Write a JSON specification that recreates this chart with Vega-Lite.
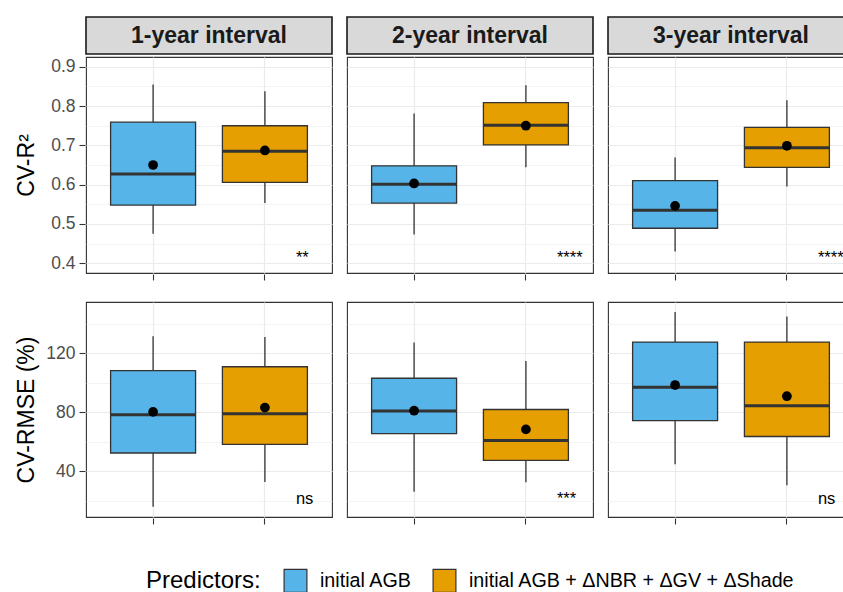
{
  "$schema": "https://vega.github.io/schema/vega-lite/v6.json",
  "padding": {"left": 15, "top": 16, "right": 0, "bottom": 5},
  "datasets": {
    "strips": [
      {"interval": "1-year interval"},
      {"interval": "2-year interval"},
      {"interval": "3-year interval"}
    ],
    "boxes": [
      {"metric": "R2", "interval": "1-year interval", "predictor": "initial AGB", "low": 0.475, "q1": 0.548, "median": 0.627, "q3": 0.759, "high": 0.855, "mean": 0.650, "sig": null, "label_y": null},
      {"metric": "R2", "interval": "1-year interval", "predictor": "initial AGB + ΔNBR + ΔGV + ΔShade", "low": 0.553, "q1": 0.606, "median": 0.685, "q3": 0.750, "high": 0.838, "mean": 0.687, "sig": "**", "label_y": 0.40},
      {"metric": "R2", "interval": "2-year interval", "predictor": "initial AGB", "low": 0.473, "q1": 0.553, "median": 0.601, "q3": 0.648, "high": 0.781, "mean": 0.603, "sig": null, "label_y": null},
      {"metric": "R2", "interval": "2-year interval", "predictor": "initial AGB + ΔNBR + ΔGV + ΔShade", "low": 0.644, "q1": 0.701, "median": 0.751, "q3": 0.809, "high": 0.853, "mean": 0.750, "sig": "****", "label_y": 0.40},
      {"metric": "R2", "interval": "3-year interval", "predictor": "initial AGB", "low": 0.430, "q1": 0.489, "median": 0.535, "q3": 0.610, "high": 0.669, "mean": 0.546, "sig": null, "label_y": null},
      {"metric": "R2", "interval": "3-year interval", "predictor": "initial AGB + ΔNBR + ΔGV + ΔShade", "low": 0.595, "q1": 0.644, "median": 0.694, "q3": 0.746, "high": 0.815, "mean": 0.699, "sig": "****", "label_y": 0.40},
      {"metric": "RMSE", "interval": "1-year interval", "predictor": "initial AGB", "low": 15.8, "q1": 52.3, "median": 78.2, "q3": 108.1, "high": 131.4, "mean": 80.2, "sig": null, "label_y": null},
      {"metric": "RMSE", "interval": "1-year interval", "predictor": "initial AGB + ΔNBR + ΔGV + ΔShade", "low": 32.7, "q1": 58.1, "median": 79.0, "q3": 110.8, "high": 131.0, "mean": 83.1, "sig": "ns", "label_y": 17.8},
      {"metric": "RMSE", "interval": "2-year interval", "predictor": "initial AGB", "low": 26.0, "q1": 65.5, "median": 80.7, "q3": 103.0, "high": 127.3, "mean": 81.0, "sig": null, "label_y": null},
      {"metric": "RMSE", "interval": "2-year interval", "predictor": "initial AGB + ΔNBR + ΔGV + ΔShade", "low": 32.4, "q1": 47.3, "median": 60.8, "q3": 81.8, "high": 114.7, "mean": 68.3, "sig": "***", "label_y": 17.8},
      {"metric": "RMSE", "interval": "3-year interval", "predictor": "initial AGB", "low": 44.6, "q1": 74.3, "median": 96.9, "q3": 127.5, "high": 148.0, "mean": 98.4, "sig": null, "label_y": null},
      {"metric": "RMSE", "interval": "3-year interval", "predictor": "initial AGB + ΔNBR + ΔGV + ΔShade", "low": 30.4, "q1": 63.5, "median": 84.3, "q3": 127.5, "high": 144.9, "mean": 90.8, "sig": "ns", "label_y": 17.8}
    ]
  },
  "config": {
    "font": "Liberation Sans",
    "view": {"stroke": "#333333", "strokeWidth": 1.1},
    "axis": {
      "domain": false,
      "gridColor": "#EBEBEB",
      "gridWidth": 1.2,
      "tickColor": "#333333",
      "tickWidth": 1.1,
      "tickSize": 6,
      "labelColor": "#4D4D4D",
      "labelFontSize": 17.5,
      "labelPadding": 4,
      "labelOverlap": false,
      "titleColor": "#000000",
      "titleFontSize": 23,
      "titleFontWeight": "normal",
      "titlePadding": 8
    },
    "legend": {
      "titleFontSize": 24,
      "titleFontWeight": "normal",
      "titleColor": "#000000",
      "labelFontSize": 19.7,
      "labelColor": "#000000",
      "labelLimit": 600
    }
  },
  "vconcat": [
    {
      "vconcat": [
        {
          "data": {"name": "strips"},
          "facet": {"column": {"field": "interval", "type": "nominal", "header": null}},
          "spacing": 13,
          "spec": {
            "width": 246,
            "height": 37,
            "view": {"fill": "#D9D9D9", "stroke": "#1A1A1A", "strokeWidth": 1.6},
            "mark": {"type": "text", "fontSize": 23, "fontWeight": "bold", "color": "#1A1A1A"},
            "encoding": {"text": {"field": "interval", "type": "nominal"}}
          }
        },
        {
          "data": {"name": "boxes"},
          "transform": [{"filter": "datum.metric === 'R2'"}],
          "facet": {"column": {"field": "interval", "type": "nominal", "header": null}},
          "spacing": 13,
          "spec": {
            "width": 246,
            "height": 216,
            "encoding": {
              "x": {
                "field": "predictor", "type": "nominal",
                "sort": ["initial AGB", "initial AGB + ΔNBR + ΔGV + ΔShade"],
                "scale": {"paddingInner": 0.24, "paddingOuter": 0.22},
                "axis": {"labels": false, "title": null, "grid": true}
              }
            },
            "layer": [
              {
                "mark": {"type": "rule", "color": "#333333", "strokeWidth": 1.3},
                "encoding": {
                  "y": {
                    "field": "low", "type": "quantitative",
                    "scale": {"domain": [0.375, 0.925], "nice": false, "zero": false},
                    "axis": {
                      "title": "CV-R²",
                      "titlePadding": 12,
                      "labelOverlap": false,
                      "tickCount": 30,
                      "values": [0.4, 0.45, 0.5, 0.55, 0.6, 0.65, 0.7, 0.75, 0.8, 0.85, 0.9],
                      "labelExpr": "round(datum.value*100) % 10 == 0 ? format(datum.value, '.1f') : ''",
                      "tickOpacity": {"condition": {"test": "round(datum.value*100) % 10 != 0", "value": 0}, "value": 1},
                      "gridWidth": {"condition": {"test": "round(datum.value*100) % 10 != 0", "value": 0.6}, "value": 1.2}
                    }
                  },
                  "y2": {"field": "high"}
                }
              },
              {
                "mark": {"type": "bar", "stroke": "#333333", "strokeWidth": 1.3},
                "encoding": {
                  "y": {"field": "q1", "type": "quantitative"},
                  "y2": {"field": "q3"},
                  "color": {
                    "field": "predictor", "type": "nominal",
                    "scale": {"domain": ["initial AGB", "initial AGB + ΔNBR + ΔGV + ΔShade"], "range": ["#56B4E9", "#E69F00"]},
                    "legend": {
                      "title": "Predictors:",
                      "orient": "none",
                      "legendX": 60,
                      "legendY": 551,
                      "direction": "horizontal",
                      "titleOrient": "left",
                      "titlePadding": 22,
                      "symbolType": "square",
                      "symbolSize": 520,
                      "symbolStrokeColor": "#333333",
                      "symbolStrokeWidth": 1.2,
                      "symbolOpacity": 1,
                      "labelOffset": 12,
                      "columnPadding": 18
                    }
                  }
                }
              },
              {
                "mark": {"type": "tick", "color": "#333333", "thickness": 3, "size": 85, "opacity": 1},
                "encoding": {"y": {"field": "median", "type": "quantitative"}}
              },
              {
                "mark": {"type": "point", "filled": true, "color": "#000000", "size": 95, "opacity": 1},
                "encoding": {"y": {"field": "mean", "type": "quantitative"}}
              },
              {
                "mark": {"type": "text", "align": "left", "baseline": "alphabetic", "dx": 31, "fontSize": 16.5, "color": "#000000"},
                "encoding": {
                  "y": {"field": "label_y", "type": "quantitative"},
                  "text": {"field": "sig", "type": "nominal"}
                }
              }
            ]
          }
        }
      ],
      "spacing": 1
    },
    {
      "data": {"name": "boxes"},
      "transform": [{"filter": "datum.metric === 'RMSE'"}],
      "facet": {"column": {"field": "interval", "type": "nominal", "header": null}},
      "spacing": 13,
      "spec": {
        "width": 246,
        "height": 215,
        "encoding": {
          "x": {
            "field": "predictor", "type": "nominal",
            "sort": ["initial AGB", "initial AGB + ΔNBR + ΔGV + ΔShade"],
            "scale": {"paddingInner": 0.24, "paddingOuter": 0.22},
            "axis": {"labels": false, "title": null, "grid": true}
          }
        },
        "layer": [
          {
            "mark": {"type": "rule", "color": "#333333", "strokeWidth": 1.3},
            "encoding": {
              "y": {
                "field": "low", "type": "quantitative",
                "scale": {"domain": [8.9, 154.7], "nice": false, "zero": false},
                "axis": {
                  "title": "CV-RMSE (%)",
                  "titlePadding": 7,
                  "labelOverlap": false,
                  "tickCount": 30,
                  "values": [20, 40, 60, 80, 100, 120, 140],
                  "labelExpr": "datum.value % 40 == 0 ? datum.label : ''",
                  "tickOpacity": {"condition": {"test": "datum.value % 40 != 0", "value": 0}, "value": 1},
                  "gridWidth": {"condition": {"test": "datum.value % 40 != 0", "value": 0.6}, "value": 1.2}
                }
              },
              "y2": {"field": "high"}
            }
          },
          {
            "mark": {"type": "bar", "stroke": "#333333", "strokeWidth": 1.3},
            "encoding": {
              "y": {"field": "q1", "type": "quantitative"},
              "y2": {"field": "q3"},
              "color": {"field": "predictor", "type": "nominal"}
            }
          },
          {
            "mark": {"type": "tick", "color": "#333333", "thickness": 3, "size": 85, "opacity": 1},
            "encoding": {"y": {"field": "median", "type": "quantitative"}}
          },
          {
            "mark": {"type": "point", "filled": true, "color": "#000000", "size": 95, "opacity": 1},
            "encoding": {"y": {"field": "mean", "type": "quantitative"}}
          },
          {
            "mark": {"type": "text", "align": "left", "baseline": "alphabetic", "dx": 31, "fontSize": 16.5, "color": "#000000"},
            "encoding": {
              "y": {"field": "label_y", "type": "quantitative"},
              "text": {"field": "sig", "type": "nominal"}
            }
          }
        ]
      }
    }
  ],
  "spacing": 20
}
